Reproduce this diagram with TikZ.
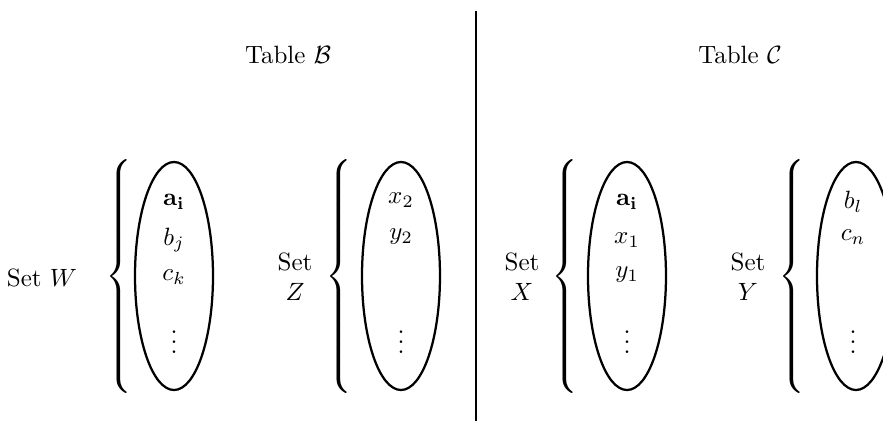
\documentclass[tikz,border=0pt]{standalone}
\usepackage{amsmath}
\usetikzlibrary{shapes.geometric}
\begin{document}
\begin{tikzpicture}[x=0.4pt,y=-0.4pt,
  setell/.style={draw,ellipse,line width=0.9pt,inner sep=0pt,minimum width=31.2pt,minimum height=91.2pt},
  bracebox/.style={inner sep=0pt,outer sep=0pt,font=\large},
  lab/.style={inner sep=0pt,align=center},
  elem/.style={inner sep=0pt}]
\useasboundingbox (0,0) rectangle (883,421);
\clip (0,0) rectangle (883,421);
% titles
\node[lab] (tb) at (288,55) {Table $\mathcal{B}$};
\node[lab] (tc) at (740,55) {Table $\mathcal{C}$};
% divider
\coordinate (dtop) at (476,11);
\coordinate (dbot) at (476,425);
\draw[line width=0.9pt] (dtop) -- (dbot);
% ellipses
\node[setell] (e1) at (174,276) {};
\node[setell] (e2) at (401,276) {};
\node[setell] (e3) at (627,276) {};
\node[setell] (e4) at (856,276) {};
% braces
\newcommand{\bigbrace}{\delimiterfactor=1000 \delimitershortfall=0pt $\left\{\vcenter{\hrule height 44.5pt depth 44.5pt width 0pt}\right.$}
\node[bracebox] (b1) at (120,276) {\bigbrace};
\node[bracebox] (b2) at (340.5,276) {\bigbrace};
\node[bracebox] (b3) at (566.5,276) {\bigbrace};
\node[bracebox] (b4) at (793,276) {\bigbrace};
% set labels
\node[lab] (sw) at (42,278) {Set $W$};
\node[lab] (sz) at (295,277) {Set\\$Z$};
\node[lab] (sx) at (522,277) {Set\\$X$};
\node[lab] (sy) at (748,277) {Set\\$Y$};
% contents of W
\node[elem] (w1) at (174,202) {$\mathbf{a_i}$};
\node[elem] (w2) at (174,240) {$b_j$};
\node[elem] (w3) at (174,277) {$c_k$};
\node[elem] (w4) at (174,335) {$\vdots$};
% contents of Z
\node[elem] (z1) at (401,200) {$x_2$};
\node[elem] (z2) at (401,237) {$y_2$};
\node[elem] (z3) at (401,335) {$\vdots$};
% contents of X
\node[elem] (x1) at (627,202) {$\mathbf{a_i}$};
\node[elem] (x2) at (627,240) {$x_1$};
\node[elem] (x3) at (627,275) {$y_1$};
\node[elem] (x4) at (627,335) {$\vdots$};
% contents of Y
\node[elem] (y1) at (853,202) {$b_l$};
\node[elem] (y2) at (853,237) {$c_n$};
\node[elem] (y3) at (853,335) {$\vdots$};
\end{tikzpicture}
\end{document}
